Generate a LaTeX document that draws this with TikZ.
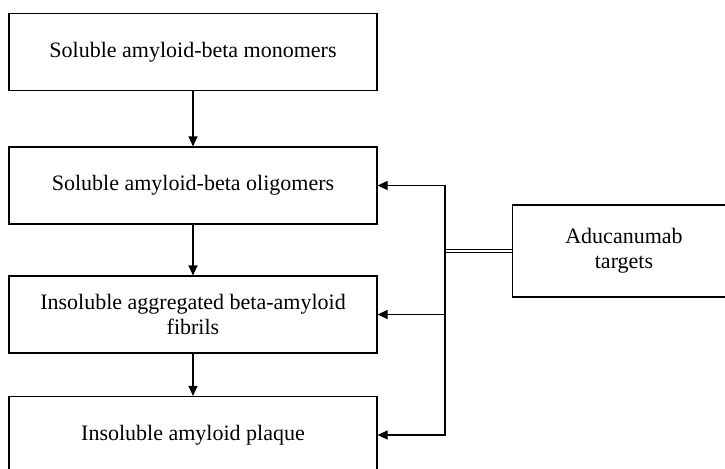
\documentclass[tikz,border=0pt]{standalone}
\usepackage{fontspec}
\setmainfont{Liberation Serif}
\usetikzlibrary{arrows.meta}

\tikzset{
  stage/.style={rectangle,draw,line width=0.6pt,minimum width=184pt,minimum height=38.5pt,
    font=\fontsize{11}{12.5}\selectfont,align=center},
  flow/.style={draw,line width=0.6pt,-{Triangle[length=5pt,width=4.5pt]}}
}

\begin{document}
\begin{tikzpicture}[x=0.5pt,y=-0.5pt]
  \useasboundingbox (0,0) rectangle (725,468);

  \begin{scope}[every node/.style={stage}]
    \node (mono)  at (193,51.75) {Soluble amyloid-beta monomers};
    \node (oligo) at (193,185.5) {Soluble amyloid-beta oligomers};
    \node (fib)   at (193,314.5) {Insoluble aggregated beta-amyloid\\fibrils};
    \node (plaq)  at (193,435)   {Insoluble amyloid plaque};
    \node[minimum width=120pt,minimum height=46pt,anchor=west] (adu) at (512,251) {};
  \end{scope}
  \node[font=\fontsize{11}{12.5}\selectfont,align=center] (adutxt) at (624,251) {Aducanumab\\targets};

  \coordinate (split) at ([xshift=-33.5pt]adu.west);
  \draw[line width=0.5pt,double,double distance=0.9pt] (adu.west) -- (split);

  \begin{scope}[every edge/.style={flow}]
    \path (mono)  edge (oligo);
    \path (oligo) edge (fib);
    \path (fib)   edge (plaq);
  \end{scope}
  \draw[flow] (split) |- (oligo.east);
  \draw[flow] (split) |- (fib.east);
  \draw[flow] (split) |- (plaq.east);

\end{tikzpicture}
\end{document}
